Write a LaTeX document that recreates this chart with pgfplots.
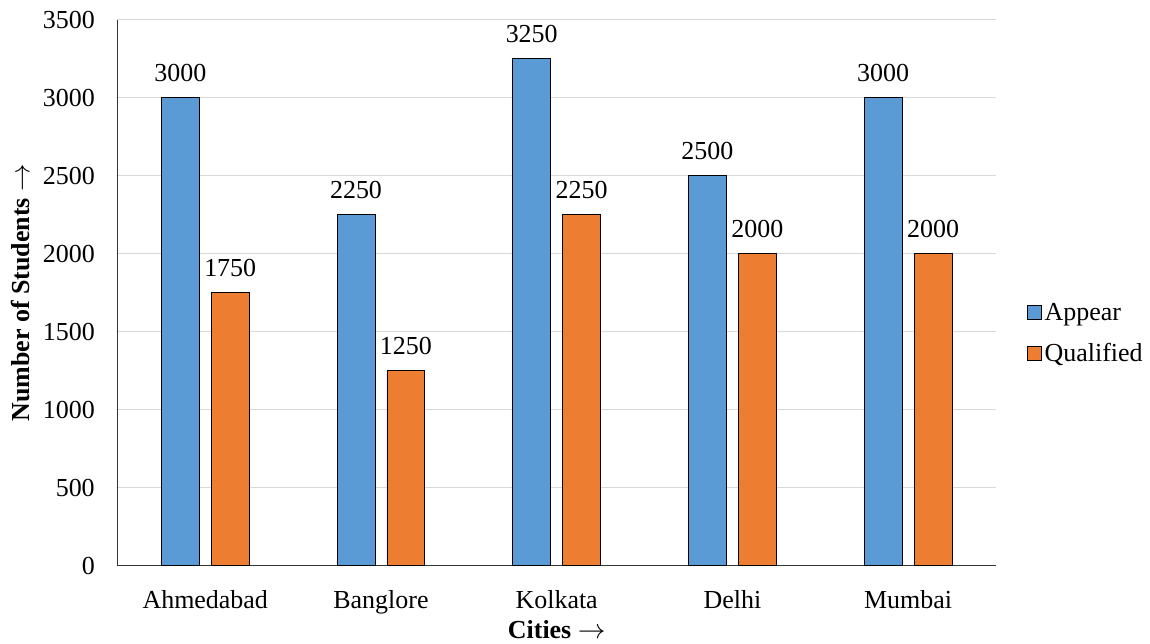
\documentclass[border=0pt]{standalone}
\usepackage{fontspec}
\setmainfont{Liberation Serif}
\usepackage{pgfplots}
\pgfplotsset{compat=1.18}
\definecolor{appear}{HTML}{5B9BD5}
\definecolor{qual}{HTML}{ED7D31}
\begin{document}
\begin{tikzpicture}
\begin{axis}[
  scale only axis,
  width=660pt, height=410pt,
  ybar=9pt, bar width=28.5pt,
  xmin=-0.5, xmax=4.5,
  ymin=0, ymax=3500,
  ytick={0,500,...,3500},
  xtick={0,1,2,3,4},
  xticklabels={Ahmedabad,Banglore,Kolkata,Delhi,Mumbai},
  axis x line*=bottom, axis y line*=left,
  axis line style={-, black!80, line width=0.8pt},
  major tick length=0pt,
  ymajorgrids, grid style={gray!30, line width=0.6pt},
  /pgf/number format/1000 sep={},
  /pgf/number format/assume math mode=true,
  ticklabel style={font=\fontsize{19.5}{22}\selectfont},
  yticklabel style={xshift=-13.5pt},
  xticklabel style={yshift=-15pt},
  xlabel={\textbf{Cities $\rightarrow$}},
  ylabel={\textbf{Number of Students $\rightarrow$}},
  label style={font=\fontsize{19.5}{22}\selectfont},
  xlabel style={yshift=2pt},
  ylabel style={yshift=3pt},
  nodes near coords,
  nodes near coords style={font=\fontsize{19.5}{22}\selectfont, black, yshift=8.5pt},
  legend style={at={(1.03,0.426)}, anchor=west, draw=none, fill=none,
    font=\fontsize{19.5}{22}\selectfont, row sep=11.5pt,
    nodes={inner xsep=2.5pt}},
  legend cell align=left,
  legend image code/.code={\draw[#1, draw=black, line width=0.6pt] (0pt,-5.25pt) rectangle (10.5pt,5.25pt);},
]
\addplot[fill=appear, draw=black, line width=0.6pt] coordinates {(0,3000) (1,2250) (2,3250) (3,2500) (4,3000)};
\addplot[fill=qual, draw=black, line width=0.6pt] coordinates {(0,1750) (1,1250) (2,2250) (3,2000) (4,2000)};
\legend{Appear, Qualified}
\end{axis}
\path (current bounding box.west) ++(-5pt,0pt);
\path (current bounding box.north) ++(0pt,5pt);
\end{tikzpicture}
\end{document}
